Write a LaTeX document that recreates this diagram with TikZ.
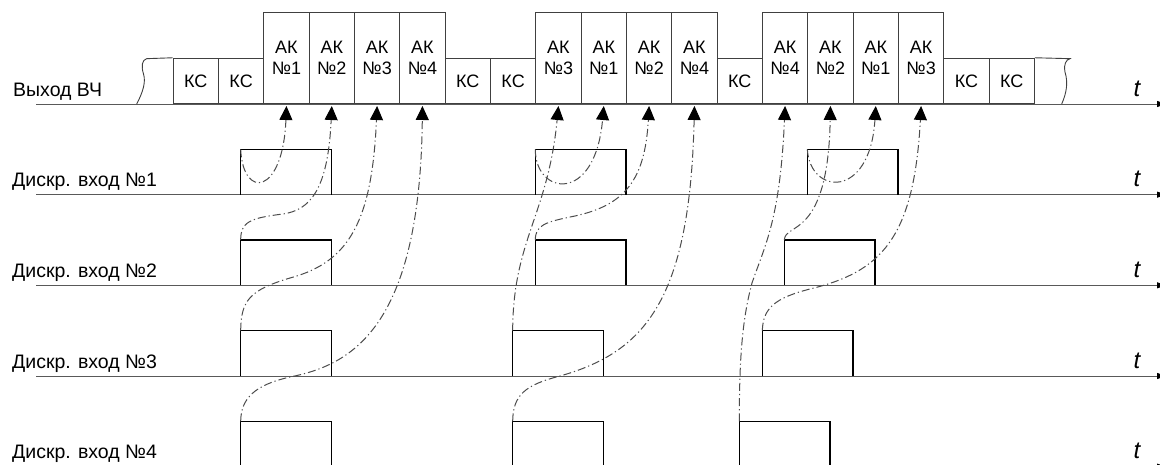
\documentclass[tikz,border=0pt]{standalone}
\usepackage{fontspec}
\setmainfont{Liberation Sans}
\usetikzlibrary{arrows.meta}
\begin{document}
\begin{tikzpicture}[x=1pt,y=-1pt,
  axis/.style={draw=black!65, line width=0.9pt, -{Triangle[length=9pt,width=6pt,color=black]}},
  boxln/.style={draw=black!75, line width=0.9pt},
  akbox/.style={boxln, rectangle, minimum width=45.33pt, minimum height=90.67pt, inner sep=0pt, anchor=south west, align=center, font=\fontsize{18}{21}\selectfont},
  ksbox/.style={akbox, minimum height=45.33pt},
  pulse/.style={draw=black, line width=1.2pt},
  link/.style={draw=black!70, line width=1pt, dash pattern=on 8pt off 3pt on 1.2pt off 3pt, -{Triangle[length=14pt,width=13pt,color=black]}},
  lab/.style={anchor=base west, inner sep=0pt, font=\fontsize{19.5}{21}\selectfont},
  tlab/.style={anchor=base, inner sep=0pt, font=\fontsize{24}{25}\selectfont\itshape}
]
\useasboundingbox (0,0) rectangle (1160,465);

% axes
\coordinate (a0s) at (36,104);    \coordinate (a0e) at (1166,104);
\coordinate (a1s) at (36,194.67); \coordinate (a1e) at (1166,194.67);
\coordinate (a2s) at (36,285.33); \coordinate (a2e) at (1166,285.33);
\coordinate (a3s) at (36,376);    \coordinate (a3e) at (1166,376);
\coordinate (a4s) at (36,466.67); \coordinate (a4e) at (1166,466.67);
\foreach \k in {0,...,4} \draw[axis] (a\k s) -- (a\k e);

% labels
\node[lab] (l0) at (13,96.5) {Выход ВЧ};
\node[lab] (l1) at (12,186.7) {Дискр. вход №1};
\node[lab] (l2) at (12,277.3) {Дискр. вход №2};
\node[lab] (l3) at (12,368) {Дискр. вход №3};
\node[lab] (l4) at (12,458.7) {Дискр. вход №4};
\node[tlab] (t0) at (1137,96.5) {t};
\node[tlab] (t1) at (1137,186.7) {t};
\node[tlab] (t2) at (1137,277.3) {t};
\node[tlab] (t3) at (1137,368) {t};
\node[tlab] (t4) at (1137,458.7) {t};

% output boxes
\node[ksbox] (b0)  at (172.67,104) {КС};
\node[ksbox] (b1)  at (218,104)    {КС};
\node[akbox] (b2)  at (263.33,104) {АК\\№1};
\node[akbox] (b3)  at (308.67,104) {АК\\№2};
\node[akbox] (b4)  at (354,104)    {АК\\№3};
\node[akbox] (b5)  at (399.33,104) {АК\\№4};
\node[ksbox] (b6)  at (444.67,104) {КС};
\node[ksbox] (b7)  at (490,104)    {КС};
\node[akbox] (b8)  at (535.33,104) {АК\\№3};
\node[akbox] (b9)  at (580.67,104) {АК\\№1};
\node[akbox] (b10) at (626,104)    {АК\\№2};
\node[akbox] (b11) at (671.33,104) {АК\\№4};
\node[ksbox] (b12) at (716.67,104) {КС};
\node[akbox] (b13) at (762,104)    {АК\\№4};
\node[akbox] (b14) at (807.33,104) {АК\\№2};
\node[akbox] (b15) at (852.67,104) {АК\\№1};
\node[akbox] (b16) at (898,104)    {АК\\№3};
\node[ksbox] (b17) at (943.33,104) {КС};
\node[ksbox] (b18) at (988.67,104) {КС};

% break lines and low track top
\draw[boxln] (136.7,104) .. controls (143,92) and (146,82) .. (143.5,74) .. controls (141,66) and (142,60) .. (146.7,58.67) -- (b0.north west);
\draw[boxln] (b18.north east) -- (1070,58.67) .. controls (1066,60) and (1063.5,64) .. (1065,72) .. controls (1068,82) and (1067,92) .. (1061.7,104);

% pulse corners
\coordinate (p1a) at (240.67,149.33);
\coordinate (p2a) at (240.67,240);
\coordinate (p3a) at (240.67,330.67);
\coordinate (p4a) at (240.67,421.33);
\coordinate (q1a) at (535.33,149.33);
\coordinate (q2a) at (535.33,240);
\coordinate (q3a) at (512.67,330.67);
\coordinate (q4a) at (512.67,421.33);
\coordinate (r1a) at (807.33,149.33);
\coordinate (r2a) at (784.33,240);
\coordinate (r3a) at (762.33,330.67);
\coordinate (r4a) at (739.33,421.33);

% pulses
\draw[pulse] (240.67,194.67) -- (p1a) -- (331.33,149.33) -- (331.33,194.67);
\draw[pulse] (240.67,285.33) -- (p2a) -- (331.33,240) -- (331.33,285.33);
\draw[pulse] (240.67,376) -- (p3a) -- (331.33,330.67) -- (331.33,376);
\draw[pulse] (240.67,466.67) -- (p4a) -- (331.33,421.33) -- (331.33,466.67);
\draw[pulse] (535.33,194.67) -- (q1a) -- (626,149.33) -- (626,194.67);
\draw[pulse] (535.33,285.33) -- (q2a) -- (626,240) -- (626,285.33);
\draw[pulse] (512.67,376) -- (q3a) -- (603.33,330.67) -- (603.33,376);
\draw[pulse] (512.67,466.67) -- (q4a) -- (603.33,421.33) -- (603.33,466.67);
\draw[pulse] (807.33,194.67) -- (r1a) -- (898,149.33) -- (898,194.67);
\draw[pulse] (784.33,285.33) -- (r2a) -- (875,240) -- (875,285.33);
\draw[pulse] (762.33,376) -- (r3a) -- (853,330.67) -- (853,376);
\draw[pulse] (739.33,466.67) -- (r4a) -- (830,421.33) -- (830,466.67);

% links group 1
\draw[link] (p1a) .. controls (243,200) and (283,195) .. ([yshift=-2pt]b2.south);
\draw[link] (p2a) .. controls (240.67,222) and (250,218) .. (283,214) .. controls (310,210) and (328,190) .. ([yshift=-2pt]b3.south);
\draw[link] (p3a) .. controls (241,300) and (250,290) .. (290,278) .. controls (350,262) and (372,220) .. ([yshift=-2pt]b4.south);
\draw[link] (p4a) .. controls (241,398) and (255,385) .. (290,377) .. controls (350,365) and (420,330) .. ([yshift=-2pt]b5.south);
% links group 2
\draw[link] (q3a) .. controls (513,240) and (548,215) .. ([yshift=-2pt]b8.south);
\draw[link] (q1a) .. controls (535,195) and (595,205) .. ([yshift=-2pt]b9.south);
\draw[link] (q2a) .. controls (535.33,225) and (545,222) .. (575,216) .. controls (625,205) and (645,180) .. ([yshift=-2pt]b10.south);
\draw[link] (q4a) .. controls (513,395) and (525,385) .. (560,376) .. controls (645,352) and (690,300) .. ([yshift=-2pt]b11.south);
% links group 3
\draw[link] (r4a) .. controls (739.3,360) and (742,320) .. (752,283) .. controls (765,245) and (780,220) .. ([yshift=-2pt]b13.south);
\draw[link] (r2a) .. controls (785,222) and (828,240) .. ([yshift=-2pt]b14.south);
\draw[link] (r1a) .. controls (810,195) and (870,200) .. ([yshift=-2pt]b15.south);
\draw[link] (r3a) .. controls (763,308) and (775,298) .. (810,289) .. controls (880,272) and (914,240) .. ([yshift=-2pt]b16.south);
\end{tikzpicture}
\end{document}
